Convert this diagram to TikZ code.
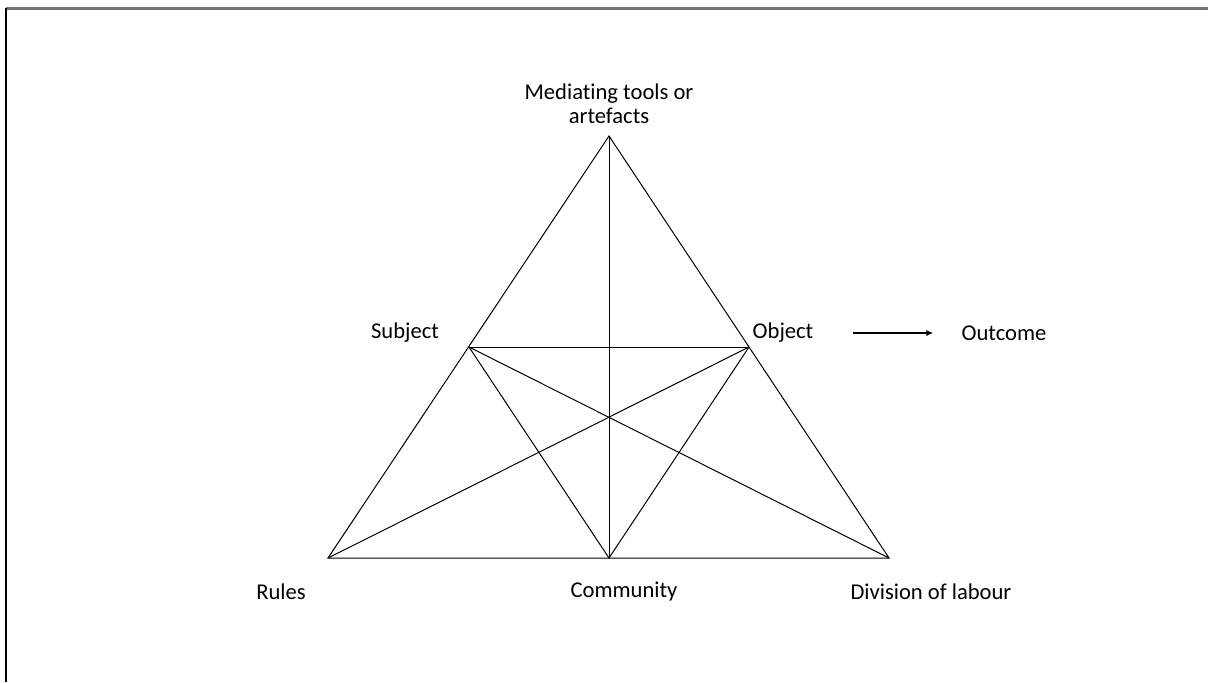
\documentclass[tikz,border=0pt]{standalone}
\usepackage{fontspec}
\setmainfont{Carlito}[Ligatures=NoCommon]
\usetikzlibrary{arrows.meta}

\begin{document}
\begin{tikzpicture}[x=0.5pt, y=-0.5pt, font=\fontsize{11.3}{12.2}\selectfont,
  lbl/.style={inner sep=1pt, align=center},
  edge/.style={draw=black, line width=0.5pt},
  ar/.style={-{Latex[length=3.5pt, width=3.2pt]}, line width=0.6pt}]
\useasboundingbox (0,0) rectangle (1208,682);

% frame remnants
\draw[gray!90!black, line width=1.2pt] (6,8.5) -- (1208,8.5);
\draw[black, line width=0.8pt] (6,8) -- (6,682);

% corners
\coordinate (tools) at (609,136);
\coordinate (rules) at (328,558);
\coordinate (labour) at (889,558);
\coordinate (comm) at (609,558);
\coordinate (subj) at (469,347);
\coordinate (obj) at (749,347);

\draw[edge] (tools) -- (rules) -- (labour) -- cycle;
\draw[edge] (tools) -- (comm);
\draw[edge] (subj) -- (obj);
\draw[edge] (subj) -- (comm) -- (obj);
\draw[edge] (subj) -- (labour);
\draw[edge] (obj) -- (rules);

% labels
\node[lbl] (toolslbl) at (609,104) {Mediating tools or\\artefacts};
\node[lbl] (subject) at (405,333) {Subject};
\node[lbl] (object) at (783,333) {Object};
\node[lbl] (outcome) at (1004,333) {Outcome};
\node[lbl] (ruleslbl) at (281,592) {Rules};
\node[lbl] (commlbl) at (624,592) {Community};
\node[lbl] (labourlbl) at (931,592) {Division of labour};

\draw[ar, shorten <=18.5pt, shorten >=13pt] (object) -- (outcome);
\end{tikzpicture}
\end{document}
